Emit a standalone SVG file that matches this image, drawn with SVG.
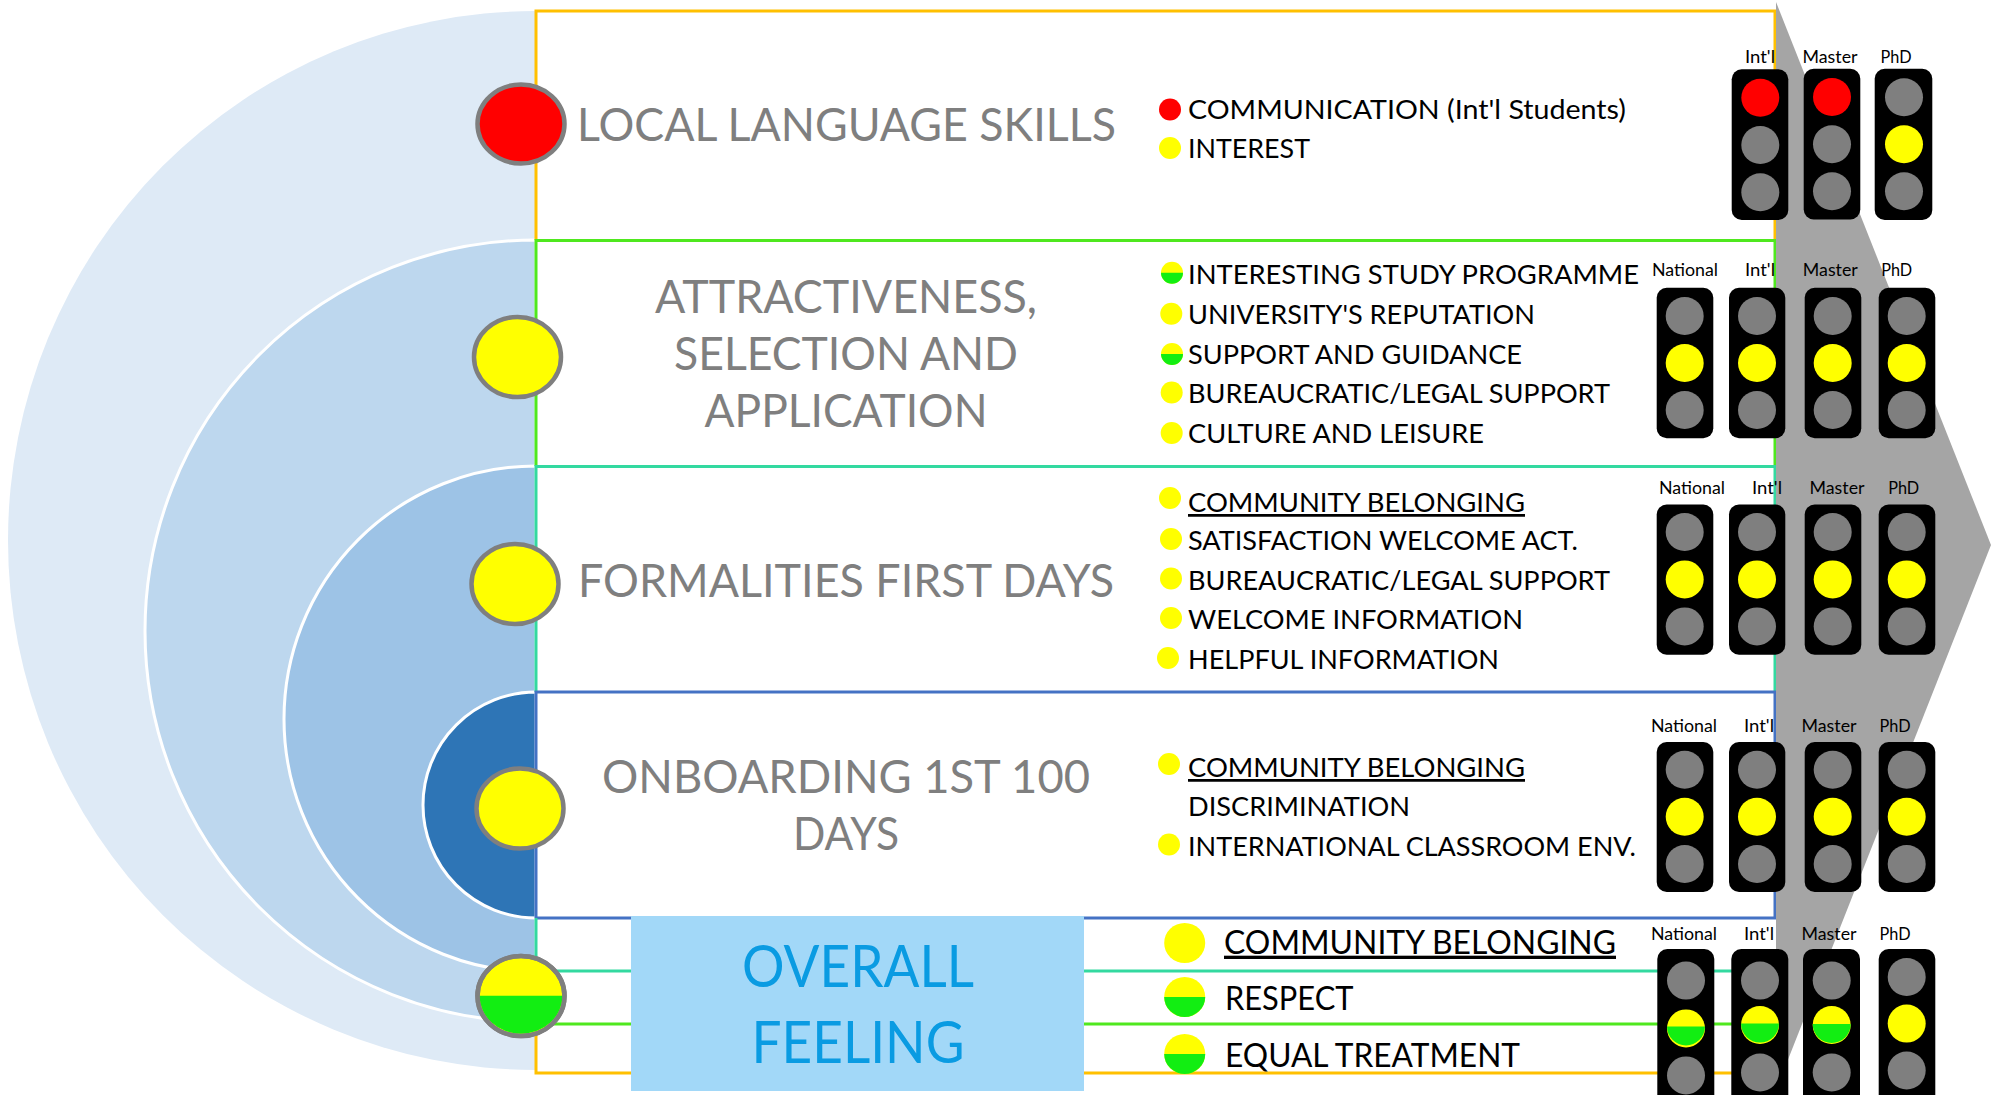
<svg xmlns="http://www.w3.org/2000/svg" width="1997" height="1095" viewBox="0 0 1997 1095">
<style>
text{font-family:Lato,"Liberation Sans",sans-serif}
.h{font-size:46px;fill:#7f7f7f}
.c{text-anchor:middle}
.t{font-size:27.5px;fill:#000}
.b{font-size:33px;fill:#000}
.o{font-size:59px;fill:#0a9be2;text-anchor:middle}
.l{font-size:17px;fill:#000;text-anchor:middle}
.u{text-decoration:underline}
.arc{stroke:#fff;stroke-width:3}
.ln{fill:none;stroke-width:3}
.or{stroke:#ffc000}.gr{stroke:#4fe81e}.te{stroke:#33d9a0}.bl{stroke:#4472c4}
.big{stroke:#7f7f7f;stroke-width:4.5}
.y{fill:#ff0}.r{fill:#f00}.g{fill:#12ee12}.n{fill:#7f7f7f}
.body{fill:#000}
</style>
<g id="background-arcs">
<path d="M536 11A528 529.5 0 0 0 536 1070Z" fill="#deeaf6"/>
<path class="arc" d="M536 240A391 391 0 0 0 536 1022Z" fill="#bdd7ee"/>
<path class="arc" d="M536 466A252 253 0 0 0 536 972Z" fill="#9dc3e6"/>
<path class="arc" d="M536 692A113 113 0 0 0 536 918Z" fill="#2e75b6"/>
</g>
<g id="connectors">
<path class="ln or" d="M536 240V11H1775V240"/>
<path class="ln gr" d="M536 466V240.5H1775V466"/>
<path class="ln te" d="M536 692V466.5H1775V692"/>
<path class="ln bl" d="M536 918V692H1775V918H536"/>
<path class="ln te" d="M536 918V971H1775"/>
<path class="ln gr" d="M536 971V1024H1775"/>
<path class="ln or" d="M536 1024V1073H1775"/>
</g>
<polygon id="arrow" points="1776,2 1991,545 1776,1090" fill="#a5a5a5"/>
<g id="overall-box">
<rect x="631" y="916" width="453" height="175" fill="#a2d8f8"/>
<text class="o" x="858" y="987" textLength="232" lengthAdjust="spacingAndGlyphs">OVERALL</text>
<text class="o" x="858" y="1063" textLength="213" lengthAdjust="spacingAndGlyphs">FEELING</text>
</g>
<g id="stage-language">
<ellipse class="big r" cx="521" cy="124" rx="43.5" ry="39.5"/>
<text class="h" x="577" y="141" textLength="539" lengthAdjust="spacingAndGlyphs">LOCAL LANGUAGE SKILLS</text>
<circle class="r" cx="1170" cy="109.5" r="11"/>
<text class="t" x="1188" y="118.7" textLength="438" lengthAdjust="spacingAndGlyphs">COMMUNICATION (Int'l Students)</text>
<circle class="y" cx="1170" cy="148" r="11"/>
<text class="t" x="1188" y="158" textLength="122" lengthAdjust="spacingAndGlyphs">INTEREST</text>
</g>
<g id="stage-attractiveness">
<ellipse class="big y" cx="517.5" cy="357" rx="43.5" ry="40"/>
<text class="h c" x="846" y="313" textLength="382" lengthAdjust="spacingAndGlyphs">ATTRACTIVENESS,</text>
<text class="h c" x="846" y="370" textLength="344" lengthAdjust="spacingAndGlyphs">SELECTION AND</text>
<text class="h c" x="846" y="427" textLength="283" lengthAdjust="spacingAndGlyphs">APPLICATION</text>
<circle class="y" cx="1172" cy="272.7" r="11"/><path class="g" d="M1161 272.7A11 11 0 0 0 1183 272.7Z"/>
<text class="t" x="1188" y="284" textLength="451" lengthAdjust="spacingAndGlyphs">INTERESTING STUDY PROGRAMME</text>
<circle class="y" cx="1171.3" cy="313.7" r="11"/>
<text class="t" x="1188" y="324" textLength="347" lengthAdjust="spacingAndGlyphs">UNIVERSITY'S REPUTATION</text>
<circle class="y" cx="1172" cy="354" r="11"/><path class="g" d="M1161 354A11 11 0 0 0 1183 354Z"/>
<text class="t" x="1188" y="364" textLength="334" lengthAdjust="spacingAndGlyphs">SUPPORT AND GUIDANCE</text>
<circle class="y" cx="1171.7" cy="392.5" r="11"/>
<text class="t" x="1188" y="403" textLength="422" lengthAdjust="spacingAndGlyphs">BUREAUCRATIC/LEGAL SUPPORT</text>
<circle class="y" cx="1171.7" cy="433" r="11"/>
<text class="t" x="1188" y="443" textLength="296" lengthAdjust="spacingAndGlyphs">CULTURE AND LEISURE</text>
</g>
<g id="stage-formalities">
<ellipse class="big y" cx="515" cy="584" rx="43.5" ry="40"/>
<text class="h" x="578" y="596.5" textLength="536" lengthAdjust="spacingAndGlyphs">FORMALITIES FIRST DAYS</text>
<circle class="y" cx="1170" cy="498" r="11"/>
<text class="t u" x="1188" y="512" textLength="337" lengthAdjust="spacingAndGlyphs">COMMUNITY BELONGING</text>
<circle class="y" cx="1171" cy="539" r="11"/>
<text class="t" x="1188" y="550" textLength="390" lengthAdjust="spacingAndGlyphs">SATISFACTION WELCOME ACT.</text>
<circle class="y" cx="1171" cy="578.5" r="11"/>
<text class="t" x="1188" y="590" textLength="422" lengthAdjust="spacingAndGlyphs">BUREAUCRATIC/LEGAL SUPPORT</text>
<circle class="y" cx="1171" cy="618" r="11"/>
<text class="t" x="1188" y="629" textLength="335" lengthAdjust="spacingAndGlyphs">WELCOME INFORMATION</text>
<circle class="y" cx="1168" cy="658" r="11"/>
<text class="t" x="1188" y="668.5" textLength="311" lengthAdjust="spacingAndGlyphs">HELPFUL INFORMATION</text>
</g>
<g id="stage-onboarding">
<ellipse class="big y" cx="520" cy="808.5" rx="43.5" ry="40"/>
<text class="h c" x="846" y="793" textLength="488" lengthAdjust="spacingAndGlyphs">ONBOARDING 1ST 100</text>
<text class="h c" x="846" y="850" textLength="106" lengthAdjust="spacingAndGlyphs">DAYS</text>
<circle class="y" cx="1169" cy="764" r="11"/>
<text class="t u" x="1188" y="777" textLength="337" lengthAdjust="spacingAndGlyphs">COMMUNITY BELONGING</text>
<text class="t" x="1188" y="816" textLength="222" lengthAdjust="spacingAndGlyphs">DISCRIMINATION</text>
<circle class="y" cx="1169" cy="844.5" r="11"/>
<text class="t" x="1188" y="856" textLength="448" lengthAdjust="spacingAndGlyphs">INTERNATIONAL CLASSROOM ENV.</text>
</g>
<g id="stage-overall">
<ellipse class="big y" cx="521" cy="996" rx="43.5" ry="40"/>
<path class="g" d="M479.5 995.7A41.5 38 0 0 0 562.5 995.7Z"/>
<ellipse cx="521" cy="996" rx="43.5" ry="40" fill="none" stroke="#7f7f7f" stroke-width="4.5"/>
<ellipse class="y" cx="1184.7" cy="943" rx="20.5" ry="20"/>
<text class="b u" x="1224" y="953.7" textLength="392" lengthAdjust="spacingAndGlyphs">COMMUNITY BELONGING</text>
<ellipse class="y" cx="1184.7" cy="997" rx="20.5" ry="20"/><path class="g" d="M1164.2 997A20.5 20 0 0 0 1205.2 997Z"/>
<text class="b" x="1225" y="1010" textLength="128.5" lengthAdjust="spacingAndGlyphs">RESPECT</text>
<ellipse class="y" cx="1184.7" cy="1054" rx="20.5" ry="20"/><path class="g" d="M1164.2 1054A20.5 20 0 0 0 1205.2 1054Z"/>
<text class="b" x="1225" y="1067" textLength="295" lengthAdjust="spacingAndGlyphs">EQUAL TREATMENT</text>
</g>
<g id="lights-language">
<text class="l" x="1760" y="63" textLength="30" lengthAdjust="spacingAndGlyphs">Int'l</text>
<text class="l" x="1830" y="63" textLength="55" lengthAdjust="spacingAndGlyphs">Master</text>
<text class="l" x="1896" y="63" textLength="31" lengthAdjust="spacingAndGlyphs">PhD</text>
<rect class="body" x="1731.7" y="69.3" width="56.6" height="150.7" rx="10"/>
<circle class="r" cx="1760.3" cy="97.7" r="19"/><circle class="n" cx="1760.3" cy="145" r="19"/><circle class="n" cx="1760.3" cy="192.3" r="19"/>
<rect class="body" x="1803.7" y="68.7" width="56.6" height="150.7" rx="10"/>
<circle class="r" cx="1832" cy="97" r="19"/><circle class="n" cx="1832" cy="144.3" r="19"/><circle class="n" cx="1832" cy="191.3" r="19"/>
<rect class="body" x="1874.7" y="68.7" width="57.6" height="151.3" rx="10"/>
<circle class="n" cx="1904" cy="97.3" r="19"/><circle class="y" cx="1904" cy="144.3" r="19"/><circle class="n" cx="1904" cy="191.3" r="19"/>
</g>
<g id="lights-attractiveness">
<text class="l" x="1685" y="276" textLength="66" lengthAdjust="spacingAndGlyphs">National</text>
<text class="l" x="1760" y="276" textLength="30" lengthAdjust="spacingAndGlyphs">Int'l</text>
<text class="l" x="1830.3" y="276" textLength="55" lengthAdjust="spacingAndGlyphs">Master</text>
<text class="l" x="1896.7" y="276" textLength="31" lengthAdjust="spacingAndGlyphs">PhD</text>
<rect class="body" x="1656.7" y="287.7" width="56.6" height="150.6" rx="10"/>
<circle class="n" cx="1684.7" cy="316" r="19"/><circle class="y" cx="1684.7" cy="363" r="19"/><circle class="n" cx="1684.7" cy="410" r="19"/>
<rect class="body" x="1729" y="287.7" width="56.3" height="150.6" rx="10"/>
<circle class="n" cx="1757" cy="316" r="19"/><circle class="y" cx="1757" cy="363" r="19"/><circle class="n" cx="1757" cy="410" r="19"/>
<rect class="body" x="1804.7" y="287.7" width="56.6" height="150.6" rx="10"/>
<circle class="n" cx="1832.7" cy="316" r="19"/><circle class="y" cx="1832.7" cy="363" r="19"/><circle class="n" cx="1832.7" cy="410" r="19"/>
<rect class="body" x="1878.7" y="287.7" width="56.6" height="150.6" rx="10"/>
<circle class="n" cx="1906.7" cy="316" r="19"/><circle class="y" cx="1906.7" cy="363" r="19"/><circle class="n" cx="1906.7" cy="410" r="19"/>
</g>
<g id="lights-formalities">
<text class="l" x="1692" y="494.4" textLength="66" lengthAdjust="spacingAndGlyphs">National</text>
<text class="l" x="1767" y="494.4" textLength="30" lengthAdjust="spacingAndGlyphs">Int'l</text>
<text class="l" x="1837" y="494.4" textLength="55" lengthAdjust="spacingAndGlyphs">Master</text>
<text class="l" x="1903.7" y="494.4" textLength="31" lengthAdjust="spacingAndGlyphs">PhD</text>
<rect class="body" x="1656.7" y="504.5" width="56.6" height="150.2" rx="10"/>
<circle class="n" cx="1684.7" cy="532" r="19"/><circle class="y" cx="1684.7" cy="579.4" r="19"/><circle class="n" cx="1684.7" cy="626.4" r="19"/>
<rect class="body" x="1729" y="504.5" width="56.3" height="150.2" rx="10"/>
<circle class="n" cx="1757" cy="532" r="19"/><circle class="y" cx="1757" cy="579.4" r="19"/><circle class="n" cx="1757" cy="626.4" r="19"/>
<rect class="body" x="1804.7" y="504.5" width="56.6" height="150.2" rx="10"/>
<circle class="n" cx="1832.7" cy="532" r="19"/><circle class="y" cx="1832.7" cy="579.4" r="19"/><circle class="n" cx="1832.7" cy="626.4" r="19"/>
<rect class="body" x="1878.7" y="504.5" width="56.6" height="150.2" rx="10"/>
<circle class="n" cx="1906.7" cy="532" r="19"/><circle class="y" cx="1906.7" cy="579.4" r="19"/><circle class="n" cx="1906.7" cy="626.4" r="19"/>
</g>
<g id="lights-onboarding">
<text class="l" x="1684" y="732" textLength="66" lengthAdjust="spacingAndGlyphs">National</text>
<text class="l" x="1759" y="732" textLength="30" lengthAdjust="spacingAndGlyphs">Int'l</text>
<text class="l" x="1829" y="732" textLength="55" lengthAdjust="spacingAndGlyphs">Master</text>
<text class="l" x="1895" y="732" textLength="31" lengthAdjust="spacingAndGlyphs">PhD</text>
<rect class="body" x="1656.7" y="742" width="56.6" height="150" rx="10"/>
<circle class="n" cx="1684.7" cy="769.7" r="19"/><circle class="y" cx="1684.7" cy="816.7" r="19"/><circle class="n" cx="1684.7" cy="864" r="19"/>
<rect class="body" x="1729" y="742" width="56.3" height="150" rx="10"/>
<circle class="n" cx="1757" cy="769.7" r="19"/><circle class="y" cx="1757" cy="816.7" r="19"/><circle class="n" cx="1757" cy="864" r="19"/>
<rect class="body" x="1804.7" y="742" width="56.6" height="150" rx="10"/>
<circle class="n" cx="1832.7" cy="769.7" r="19"/><circle class="y" cx="1832.7" cy="816.7" r="19"/><circle class="n" cx="1832.7" cy="864" r="19"/>
<rect class="body" x="1878.7" y="742" width="56.6" height="150" rx="10"/>
<circle class="n" cx="1906.7" cy="769.7" r="19"/><circle class="y" cx="1906.7" cy="816.7" r="19"/><circle class="n" cx="1906.7" cy="864" r="19"/>
</g>
<g id="lights-overall">
<text class="l" x="1684" y="940" textLength="66" lengthAdjust="spacingAndGlyphs">National</text>
<text class="l" x="1759" y="940" textLength="30" lengthAdjust="spacingAndGlyphs">Int'l</text>
<text class="l" x="1829" y="940" textLength="55" lengthAdjust="spacingAndGlyphs">Master</text>
<text class="l" x="1895" y="940" textLength="31" lengthAdjust="spacingAndGlyphs">PhD</text>
<rect class="body" x="1657.3" y="949" width="57" height="165" rx="10"/>
<circle class="n" cx="1686" cy="980.6" r="19"/><circle class="y" cx="1686" cy="1028.4" r="19"/><path class="g" d="M1667 1026.4A19 19 0 0 0 1705 1026.4Z"/><circle class="n" cx="1686" cy="1075.4" r="19"/>
<rect class="body" x="1731.3" y="949" width="57" height="165" rx="10"/>
<circle class="n" cx="1760" cy="980.6" r="19"/><circle class="y" cx="1760" cy="1025" r="19"/><path class="g" d="M1741 1023.6A19 19 0 0 0 1779 1023.6Z"/><circle class="n" cx="1760" cy="1072.5" r="19"/>
<rect class="body" x="1803" y="949" width="57" height="165" rx="10"/>
<circle class="n" cx="1831.7" cy="980.6" r="19"/><circle class="y" cx="1831.7" cy="1025" r="19"/><path class="g" d="M1812.7 1024A19 19 0 0 0 1850.7 1024Z"/><circle class="n" cx="1831.7" cy="1072.5" r="19"/>
<rect class="body" x="1878.7" y="949" width="56.6" height="165" rx="10"/>
<circle class="n" cx="1906.7" cy="977" r="19"/><circle class="y" cx="1906.7" cy="1023.6" r="19"/><circle class="n" cx="1906.7" cy="1070.5" r="19"/>
</g>
</svg>
